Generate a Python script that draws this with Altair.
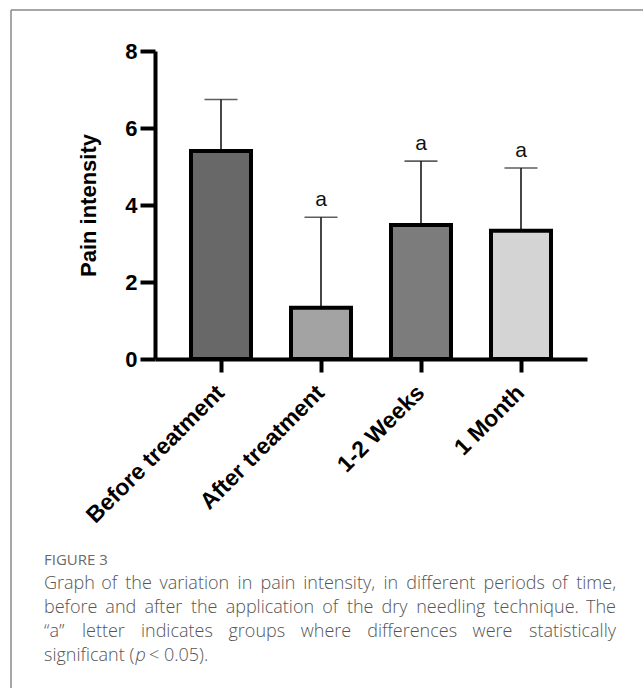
import altair as alt
import pandas as pd

# ---------------- data ----------------
categories = ["Before treatment", "After treatment", "1-2 Weeks", "1 Month"]
means = [5.40, 1.33, 3.48, 3.33]
upper = [6.74, 3.68, 5.14, 4.96]          # mean + SD
sig = ["", "a", "a", "a"]
fills = ["#686868", "#a3a3a3", "#7c7c7c", "#d4d4d4"]
y_ticks = [0, 2, 4, 6, 8]

caption_head = "FIGURE 3"
caption_lines = [
    "Graph of the variation in pain intensity, in different periods of time,",
    "before and after the application of the dry needling technique. The",
    "\u201ca\u201d letter indicates groups where differences were statistically",
]
caption_last = ["significant (", "p", "<\u00a00.05)."]
caption_last_gap = [0, 1, 3]

# ---------------- layout ----------------
W, H = 432, 308
PAD_L, PAD_T = 155, 51
TOTAL_W, TOTAL_H = 643, 688
FONT = "Liberation Sans"
CAP_FONT = "Open Sans"
CAP_SIZE = 18
CAP_LEFT, CAP_RIGHT = 44, 616
CAP_COLOR = "#555555"
WF = 0.95   # width factor for the light caption face

df = pd.DataFrame({"cat": categories, "mean": means, "upper": upper, "sig": sig})

x_enc = alt.X(
    "cat:N",
    sort=categories,
    scale=alt.Scale(paddingInner=0.4, paddingOuter=0.36),
    axis=alt.Axis(
        title=None, labelAngle=-45, labelAlign="right", labelBaseline="top",
        labelFont=FONT, labelFontSize=23, labelFontWeight="bold", labelColor="black",
        labelPadding=9, labelOffset=-8, labelLimit=400, tickSize=13, tickWidth=4,
        tickColor="black", domainWidth=4, domainColor="black", grid=False, zindex=1,
    ),
)
y_scale = alt.Scale(domain=[0, 8], nice=False)
y_axis = alt.Axis(
    values=y_ticks, title="Pain intensity", titleFont=FONT, titleFontSize=22,
    titleFontWeight="bold", titleColor="black", titleAngle=-90,
    titleX=-60, titleY=H / 2, titleAlign="center", titleBaseline="alphabetic",
    labelFont=FONT, labelFontSize=22, labelFontWeight="bold", labelColor="black",
    labelPadding=3, tickSize=15, tickWidth=4, tickColor="black",
    domainWidth=4, domainColor="black", grid=False, zindex=1,
)

base = alt.Chart(df)

err = base.mark_rule(strokeWidth=1.6, color="#1a1a1a").encode(
    x=x_enc, y=alt.Y("mean:Q", scale=y_scale, axis=y_axis), y2="upper:Q"
)
cap = base.mark_tick(size=33, thickness=1.6, color="#1a1a1a").encode(
    x=alt.X("cat:N", sort=categories), y="upper:Q"
)
bars = base.mark_bar(stroke="black", strokeWidth=4).encode(
    x=alt.X("cat:N", sort=categories),
    y="mean:Q",
    color=alt.Color("cat:N", scale=alt.Scale(domain=categories, range=fills), legend=None),
)
letters = base.mark_text(font=FONT, fontSize=21, baseline="bottom", dy=-7, color="#111").encode(
    x=alt.X("cat:N", sort=categories), y="upper:Q", text="sig:N"
)

# ---------------- caption ----------------
CW = {" ": .26, "\u00a0": .26, "a": .556, "b": .613, "c": .476, "d": .613, "e": .561,
      "f": .339, "g": .548, "h": .614, "i": .253, "j": .253, "k": .525, "l": .253,
      "m": .93, "n": .614, "o": .604, "p": .613, "q": .613, "r": .408, "s": .477,
      "t": .353, "u": .614, "v": .501, "w": .778, "x": .52, "y": .501, "z": .47,
      "T": .561, "G": .685, ",": .245, ".": .266, "\u201c": .35, "\u201d": .35,
      "(": .297, ")": .297, "<": .572, "-": .32}


def tw(s):
    return sum(CW.get(ch, .57) for ch in s) * CAP_SIZE * WF


def one_text(txt, x, y, **kw):
    return alt.Chart(pd.DataFrame({"t": [txt]})).mark_text(
        align=kw.pop("align", "left"), baseline="middle", **kw
    ).encode(text="t:N", x=alt.value(x - PAD_L), y=alt.value(y - PAD_T))


cap_style = dict(font=CAP_FONT, fontSize=CAP_SIZE, fontWeight=300, color=CAP_COLOR)
layers = []
line_y = [584, 608, 632]
for line, ly in zip(caption_lines, line_y):
    words = line.split(" ")
    widths = [tw(w) for w in words]
    gap = (CAP_RIGHT - CAP_LEFT - sum(widths)) / (len(words) - 1)
    xs, cur = [], CAP_LEFT
    for w in widths:
        xs.append(cur)
        cur += w + gap
    wdf = pd.DataFrame({"w": words[:-1], "px": [v - PAD_L for v in xs[:-1]]})
    layers.append(
        alt.Chart(wdf).mark_text(align="left", baseline="middle", **cap_style)
        .encode(text="w:N", x=alt.X("px:Q", scale=None), y=alt.value(ly - PAD_T))
    )
    layers.append(one_text(words[-1], CAP_RIGHT, ly, align="right", **cap_style))

# last line with italic p
lx = CAP_LEFT
styles = ["normal", "italic", "normal"]
for part, st, g in zip(caption_last, styles, caption_last_gap):
    lx += g
    layers.append(one_text(part, lx, 656, fontStyle=st, **cap_style))
    lx += tw(part)

layers.append(one_text(caption_head, 44, 560, font=CAP_FONT, fontSize=15,
                       fontWeight=400, color="#6a6a6a"))

# frame: top and left border lines
frame_df = pd.DataFrame({"k": [0]})
frame_top = alt.Chart(frame_df).mark_rule(color="#8a8a8a", strokeWidth=1.5).encode(
    x=alt.value(11 - PAD_L), x2=alt.value(TOTAL_W - PAD_L), y=alt.value(10 - PAD_T)
)
frame_left = alt.Chart(frame_df).mark_rule(color="#8a8a8a", strokeWidth=1.5).encode(
    x=alt.value(11 - PAD_L), y=alt.value(10 - PAD_T), y2=alt.value(TOTAL_H - PAD_T)
)

chart = alt.layer(err, cap, bars, letters, frame_top, frame_left, *layers).properties(
    width=W, height=H,
    autosize=alt.AutoSizeParams(type="none"),
    padding={"left": PAD_L, "top": PAD_T, "right": TOTAL_W - PAD_L - W,
             "bottom": TOTAL_H - PAD_T - H},
    background="white",
).configure_view(stroke=None)

chart.save("out.html", embed_options={"renderer": "svg", "actions": False})
